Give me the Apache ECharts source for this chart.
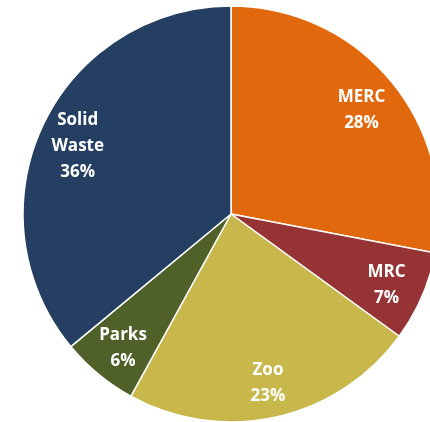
<!DOCTYPE html>
<html>
<head>
<meta charset="utf-8">
<script src="https://cdn.jsdelivr.net/npm/echarts@6/dist/echarts.min.js"></script>
<style>
  html, body { margin: 0; padding: 0; background: #ffffff; }
  #chart { width: 430px; height: 422px; }
</style>
</head>
<body>
<div id="chart"></div>
<script>
// Share of the budget by department (percent)
const categories = ['MERC', 'MRC', 'Zoo', 'Parks', 'Solid\nWaste'];
const shares = [28, 7, 23, 6, 36];
const colors = ['#E2680D', '#953335', '#C8B74A', '#4F6129', '#243F61'];

const sliceData = categories.map((name, i) => ({
  name: name,
  value: shares[i],
  itemStyle: { color: colors[i] }
}));

const center = [231, 214];
const R = 208;

const chart = echarts.init(document.getElementById('chart'), null, { renderer: 'canvas' });
chart.setOption({
  animation: false,
  series: [
    {
      // the visible slices
      type: 'pie',
      center: center,
      radius: [0, R],
      startAngle: 90,
      clockwise: true,
      silent: true,
      itemStyle: { borderColor: '#ffffff', borderWidth: 1.5 },
      label: { show: false },
      labelLine: { show: false },
      data: sliceData
    },
    {
      // transparent ring carrying the labels, so they sit near the rim
      type: 'pie',
      center: center,
      radius: [R * 0.6, R],
      startAngle: 90,
      clockwise: true,
      silent: true,
      itemStyle: { color: 'rgba(0,0,0,0)', borderWidth: 0 },
      label: {
        show: true,
        position: 'inside',
        formatter: p => p.name + '\n' + p.value + '%',
        color: '#ffffff',
        fontFamily: 'Open Sans',
        fontWeight: 'bold',
        fontSize: 17,
        lineHeight: 26,
        align: 'center',
        offset: [0, 4]
      },
      labelLine: { show: false },
      data: categories.map((name, i) => ({ name: name, value: shares[i] }))
    }
  ]
});
</script>
</body>
</html>
